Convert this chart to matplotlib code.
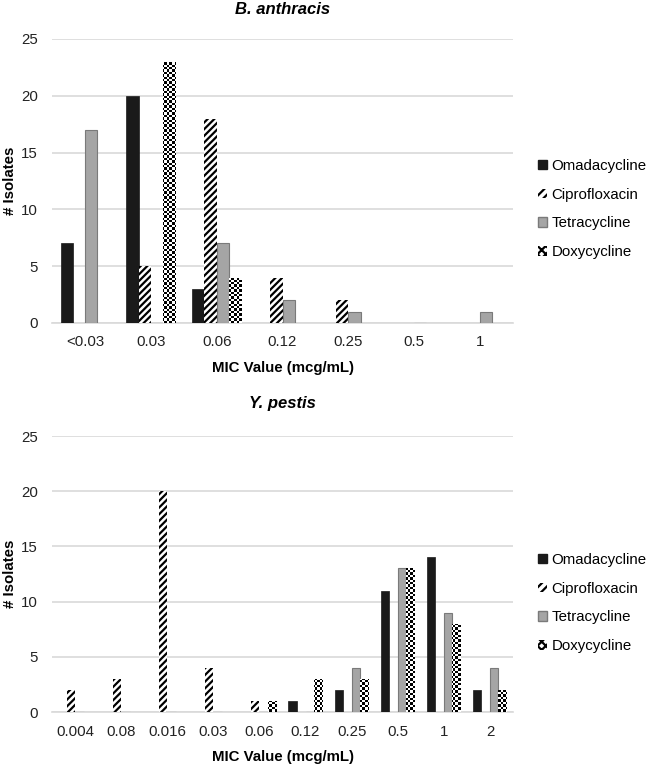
import numpy as np
import matplotlib
matplotlib.use("Agg")
import matplotlib.pyplot as plt
from matplotlib.patches import Patch

plt.rcParams['font.family'] = ['Liberation Sans', 'DejaVu Sans']
plt.rcParams['hatch.linewidth'] = 1.6

series = ["Omadacycline", "Ciprofloxacin", "Tetracycline", "Doxycycline"]

# B. anthracis
ba_cats = ["<0.03", "0.03", "0.06", "0.12", "0.25", "0.5", "1"]
ba_omada = [7, 20, 3, 0, 0, 0, 0]
ba_cipro = [0, 5, 18, 4, 2, 0, 0]
ba_tetra = [17, 0, 7, 2, 1, 0, 1]
ba_doxy = [0, 23, 4, 0, 0, 0, 0]

# Y. pestis
yp_cats = ["0.004", "0.08", "0.016", "0.03", "0.06", "0.12", "0.25", "0.5", "1", "2"]
yp_omada = [0, 0, 0, 0, 0, 1, 2, 11, 14, 2]
yp_cipro = [2, 3, 20, 4, 1, 0, 0, 0, 0, 0]
yp_tetra = [0, 0, 0, 0, 0, 0, 4, 13, 9, 4]
yp_doxy = [0, 0, 0, 0, 1, 3, 3, 13, 8, 2]

fig = plt.figure(figsize=(6.5, 7.64), dpi=100)
W, H = 650, 764
ax1 = fig.add_axes([52 / W, 1 - 323 / H, 461 / W, 284 / H])
ax2 = fig.add_axes([52 / W, 1 - 712 / H, 461 / W, 276 / H])

grid_col = "#d9d9d9"
omada_col = "#1a1a1a"
tetra_col = "#a5a5a5"
tetra_edge = "#7a7a7a"
FS = 10.8


def checker(px_w, px_h, cell=2.4):
    nx = int(np.ceil(px_w / cell))
    ny = int(np.ceil(px_h / cell))
    ii, jj = np.meshgrid(np.arange(nx), np.arange(ny))
    return (ii + jj) % 2


def draw(ax, cats, om, ci, te, do, title, px_h, legend_y, tpad):
    x = np.arange(len(cats))
    bw = 0.185
    offs = np.array([-1.5, -0.5, 0.5, 1.5]) * bw
    ax.bar(x + offs[0], om, bw, color=omada_col, edgecolor=omada_col, linewidth=0.5, zorder=3)
    ax.bar(x + offs[1], ci, bw, color="white", edgecolor="black", linewidth=0, hatch="/////", zorder=3)
    ax.bar(x + offs[2], te, bw, color=tetra_col, edgecolor=tetra_edge, linewidth=0.8, zorder=3)
    dbars = ax.bar(x + offs[3], do, bw, color="white", edgecolor="black", linewidth=0, zorder=3)
    pat = checker(461, px_h)
    for b, v in zip(dbars, do):
        if v > 0:
            im = ax.imshow(pat, cmap="gray_r", vmin=0, vmax=1, interpolation="nearest",
                           extent=[0, 1, 0, 1], transform=ax.transAxes, aspect="auto", zorder=4)
            im.set_clip_path(b)
    ax.set_xlim(-0.5, len(cats) - 0.5)
    ax.set_ylim(0, 25)
    ax.set_yticks([0, 5, 10, 15, 20, 25])
    ax.set_xticks(x)
    ax.set_xticklabels(cats)
    ax.yaxis.grid(True, color=grid_col, linewidth=1.2, zorder=0)
    ax.set_axisbelow(True)
    for s in ["top", "right", "left"]:
        ax.spines[s].set_visible(False)
    ax.spines["bottom"].set_color(grid_col)
    ax.spines["bottom"].set_linewidth(1.2)
    ax.tick_params(axis="both", length=0, labelsize=FS, colors="#222222")
    ax.tick_params(axis="x", pad=9)
    ax.tick_params(axis="y", pad=10)
    ax.set_xlabel("MIC Value (mcg/mL)", fontsize=FS, fontweight="bold", labelpad=8)
    ax.set_ylabel("# Isolates", fontsize=FS, fontweight="bold", labelpad=3)
    ax.set_title(title, fontsize=12, fontweight="bold", fontstyle="italic", pad=tpad, x=0.50)
    handles = [
        Patch(facecolor=omada_col, edgecolor=omada_col),
        Patch(facecolor="white", edgecolor="black", hatch="////", linewidth=0),
        Patch(facecolor=tetra_col, edgecolor=tetra_edge),
        Patch(facecolor="white", edgecolor="black", hatch="xxxx", linewidth=0),
    ]
    fig.legend(handles, series, loc="center left", bbox_to_anchor=(538 / W, 1 - legend_y / H),
               frameon=False, fontsize=FS, handlelength=0.6, handleheight=0.6,
               handletextpad=0.3, labelspacing=0.98, borderaxespad=0, borderpad=0)


draw(ax1, ba_cats, ba_omada, ba_cipro, ba_tetra, ba_doxy, "B. anthracis", 284, 209, 18)
draw(ax2, yp_cats, yp_omada, yp_cipro, yp_tetra, yp_doxy, "Y. pestis", 276, 603, 20)

fig.savefig("out.png", dpi=100)
